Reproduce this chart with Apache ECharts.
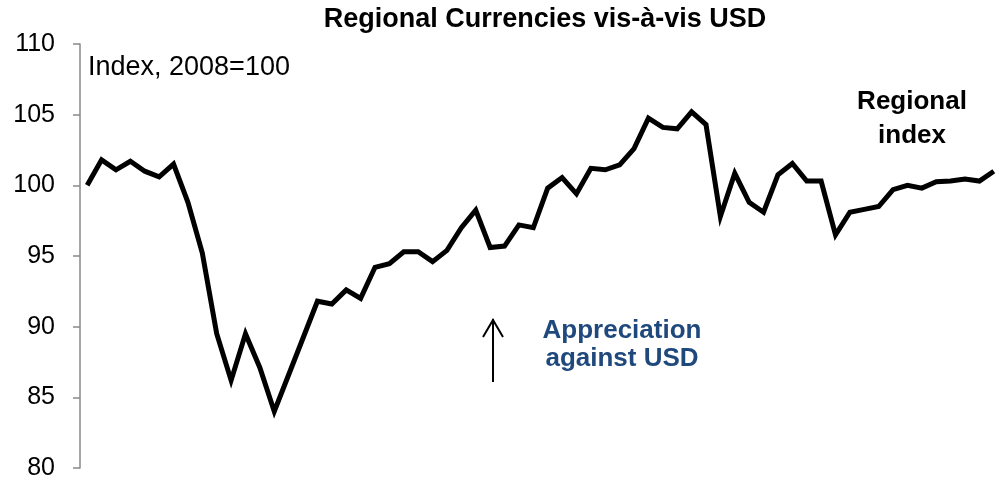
<!DOCTYPE html>
<html>
<head>
<meta charset="utf-8">
<script src="https://cdn.jsdelivr.net/npm/echarts@6/dist/echarts.min.js"></script>
<style>
  html, body { margin: 0; padding: 0; background: #fff; }
  #main { width: 1001px; height: 482px; }
</style>
</head>
<body>
<div id="main"></div>
<script>
// monthly, Jan 2008 .. Apr 2013 (labels are not drawn)
var months = [];
for (var y = 2008; y <= 2013; y++) {
  for (var m = 1; m <= 12; m++) {
    if (months.length < 64) months.push(y + '-' + (m < 10 ? '0' + m : m));
  }
}

var regionalIndex = [
  100.0, 101.8, 101.1, 101.7, 101.0, 100.6, 101.5, 98.8, 95.2, 89.5,
  86.2, 89.5, 87.1, 84.0, 86.6, 89.2, 91.8, 91.6, 92.6, 92.0,
  94.2, 94.45, 95.3, 95.3, 94.6, 95.4, 97.0, 98.25, 95.6, 95.7,
  97.2, 97.0, 99.8, 100.55, 99.4, 101.2, 101.1, 101.45, 102.6, 104.75,
  104.1, 104.0, 105.2, 104.3, 97.8, 100.85, 98.8, 98.1, 100.75, 101.55,
  100.3, 100.3, 96.5, 98.1, 98.3, 98.5, 99.7, 100.0, 99.8, 100.25,
  100.3, 100.45, 100.3, 101.0
];

var yTicks = [80, 85, 90, 95, 100, 105, 110];

var font = '"Liberation Sans", Arial, sans-serif';
var chart = echarts.init(document.getElementById('main'));

var option = {
  animation: false,
  grid: { left: 80, top: 44, bottom: 14, width: 926 },
  xAxis: {
    type: 'category',
    data: months,
    boundaryGap: true,
    axisLine: { show: false },
    axisTick: { show: false },
    axisLabel: { show: false },
    splitLine: { show: false }
  },
  yAxis: {
    type: 'value',
    min: yTicks[0],
    max: yTicks[yTicks.length - 1],
    interval: 5,
    axisLine: { show: true, lineStyle: { color: '#898989', width: 1.5 } },
    axisTick: { show: true, length: 7, lineStyle: { color: '#898989', width: 1.5 } },
    axisLabel: { margin: 25, fontFamily: font, fontSize: 25, color: '#000' },
    splitLine: { show: false }
  },
  series: [{
    name: 'Regional index',
    type: 'line',
    data: regionalIndex,
    symbol: 'none',
    lineStyle: { color: '#000', width: 5, join: 'miter' }
  }],
  graphic: [
    {
      // chart title
      type: 'text', x: 545, y: 6,
      style: {
        text: 'Regional Currencies vis-à-vis USD', font: 'bold 27px ' + font, fill: '#000',
        align: 'center', verticalAlign: 'top'
      }
    },
    {
      type: 'text', x: 88, y: 54,
      style: { text: 'Index, 2008=100', font: '27px ' + font, fill: '#000', verticalAlign: 'top' }
    },
    {
      type: 'text', x: 912, y: 85,
      style: {
        text: 'Regional\nindex', font: 'bold 26px ' + font, fill: '#000',
        align: 'center', verticalAlign: 'top', lineHeight: 34
      }
    },
    {
      type: 'text', x: 622, y: 317,
      style: {
        text: 'Appreciation\nagainst USD', font: 'bold 26px ' + font, fill: '#1F497D',
        align: 'center', verticalAlign: 'top', lineHeight: 28
      }
    },
    {
      // arrow
      type: 'line',
      shape: { x1: 493, y1: 319, x2: 493, y2: 382 },
      style: { stroke: '#000', lineWidth: 2 }
    },
    {
      type: 'polyline',
      shape: { points: [[483, 337], [493, 320], [503, 337]] },
      style: { stroke: '#000', lineWidth: 2, fill: null }
    }
  ]
};
chart.setOption(option);
</script>
</body>
</html>
